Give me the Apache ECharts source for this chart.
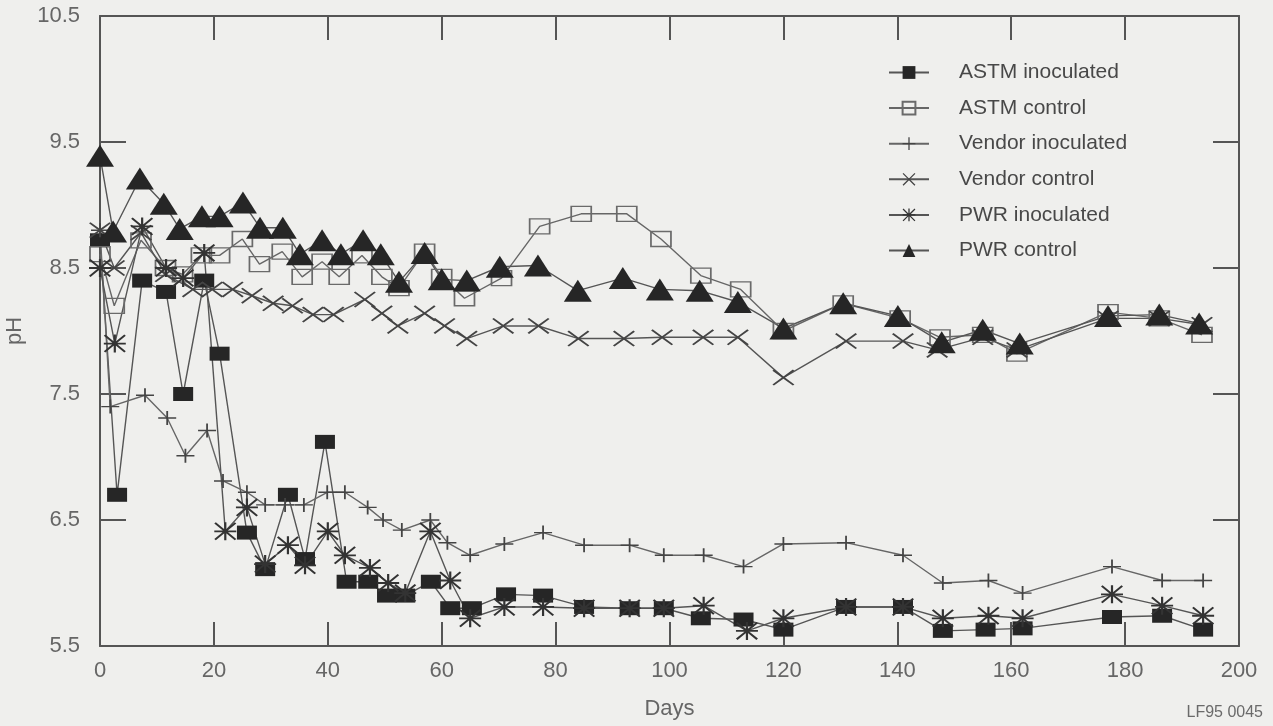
<!DOCTYPE html>
<html>
<head>
<meta charset="utf-8">
<style>
    html, body { margin: 0; padding: 0; background: #efefed; }
    #chart { width: 1273px; height: 726px; }
</style>
</head>
<body>
<div id="chart"></div>

<script src="https://cdn.jsdelivr.net/npm/echarts@6/dist/echarts.min.js"></script>
<script>
    // pH readings, [day, pH]
    var astmInoculated = [[0, 8.72], [3, 6.7], [7.4, 8.4], [11.6, 8.31], [14.6, 7.5], [18.3, 8.4], [21, 7.82],
        [25.8, 6.4], [29, 6.11], [33, 6.7], [36, 6.19], [39.5, 7.12], [43.3, 6.01], [47.1, 6.01], [50.4, 5.9],
        [53.6, 5.9], [58.1, 6.01], [61.5, 5.8], [65.3, 5.8], [71.3, 5.91], [77.8, 5.9], [85, 5.81], [93, 5.8],
        [99, 5.8], [105.5, 5.72], [113, 5.71], [120, 5.63], [131, 5.81], [141, 5.81], [148, 5.62], [155.5, 5.63],
        [162, 5.64], [177.7, 5.73], [186.5, 5.74], [193.7, 5.63]];
    var astmControl = [[0, 8.61], [2.5, 8.2], [7.2, 8.72], [11.5, 8.5], [14.5, 8.45], [17.8, 8.6], [21, 8.6],
        [25, 8.73], [28, 8.53], [32, 8.63], [35.5, 8.43], [39, 8.55], [42, 8.43], [46, 8.6], [49.5, 8.43],
        [52.5, 8.34], [57, 8.63], [60, 8.43], [64, 8.26], [70.5, 8.42], [77.2, 8.83], [84.5, 8.93], [92.5, 8.93],
        [98.5, 8.73], [105.5, 8.44], [112.5, 8.33], [120, 8.0], [130.5, 8.22], [140.5, 8.1], [147.5, 7.95],
        [155, 7.97], [161, 7.82], [177, 8.15], [186, 8.1], [193.5, 7.97]];
    var vendorInoculated = [[0, 8.8], [1.8, 7.4], [7.9, 7.49], [11.8, 7.31], [15, 7.01], [18.8, 7.21], [21.6, 6.81],
        [25.8, 6.72], [29, 6.62], [32.5, 6.62], [35.8, 6.62], [39.9, 6.72], [43, 6.72], [47, 6.6], [49.7, 6.5],
        [53, 6.42], [58, 6.5], [61, 6.32], [65, 6.22], [71, 6.31], [77.8, 6.4], [85, 6.3], [93, 6.3], [99, 6.22],
        [106, 6.22], [113, 6.13], [120, 6.31], [131, 6.32], [141, 6.22], [148, 6.0], [156, 6.02], [162, 5.92],
        [177.7, 6.13], [186.5, 6.02], [193.7, 6.02]];
    var vendorControl = [[0, 8.8], [2.5, 8.5], [7.2, 8.78], [11.5, 8.45], [16.3, 8.33], [19.7, 8.33], [23.3, 8.33],
        [26.7, 8.28], [30.4, 8.22], [33.8, 8.2], [37.4, 8.13], [41, 8.13], [46.5, 8.25], [49.5, 8.14], [52.3, 8.04],
        [57, 8.14], [60.5, 8.04], [64.4, 7.94], [70.8, 8.04], [77, 8.04], [84, 7.94], [92, 7.94], [98.7, 7.95],
        [105.9, 7.95], [112, 7.95], [120, 7.63], [131, 7.92], [141, 7.92], [147, 7.85], [155, 7.95], [161, 7.85],
        [177, 8.1], [186, 8.1], [193.5, 8.05]];
    var pwrInoculated = [[0, 8.5], [2.6, 7.9], [7.4, 8.83], [11.6, 8.5], [14.6, 8.42], [18.3, 8.62], [22, 6.41],
        [25.8, 6.6], [29, 6.15], [33, 6.3], [36, 6.14], [40, 6.41], [43, 6.22], [47.4, 6.12], [50.6, 6.0],
        [53.6, 5.92], [58, 6.41], [61.5, 6.02], [65, 5.72], [71, 5.81], [77.8, 5.81], [85, 5.8], [93, 5.8],
        [99, 5.8], [106, 5.82], [113.6, 5.62], [120, 5.72], [131, 5.81], [141, 5.81], [148, 5.72], [156, 5.74],
        [162, 5.72], [177.7, 5.91], [186.5, 5.82], [193.7, 5.74]];
    var pwrControl = [[0, 9.39], [2.3, 8.79], [7, 9.21], [11.2, 9.01], [14, 8.81], [17.9, 8.91], [21, 8.91],
        [25.1, 9.02], [28.1, 8.82], [32.1, 8.82], [35.1, 8.61], [39, 8.72], [42.3, 8.61], [46.2, 8.72], [49.3, 8.61],
        [52.5, 8.39], [57, 8.62], [60, 8.41], [64.4, 8.4], [70.2, 8.51], [76.9, 8.52], [83.9, 8.32], [91.8, 8.42],
        [98.3, 8.33], [105.3, 8.32], [112, 8.23], [120, 8.02], [130.5, 8.22], [140.1, 8.12], [147.8, 7.91],
        [155, 8.01], [161.5, 7.9], [177, 8.12], [186, 8.13], [193, 8.06]];

    var seriesNames = ['ASTM inoculated', 'ASTM control', 'Vendor inoculated', 'Vendor control', 'PWR inoculated', 'PWR control'];
    var phTicks = [5.5, 6.5, 7.5, 8.5, 9.5, 10.5];
    var phInnerTicks = [6.5, 7.5, 8.5, 9.5];

    // marker shapes made of thin bars (path symbols are filled)
    var plusPath = 'path://M0,9L20,9L20,11L0,11Z M9,0L11,0L11,20L9,20Z';
    var crossPath = 'path://M1.4,0L10,8.6L18.6,0L20,1.4L11.4,10L20,18.6L18.6,20L10,11.4L1.4,20L0,18.6L8.6,10L0,1.4Z';
    var starPath = crossPath + ' M0,9L20,9L20,11L0,11Z M9,0L11,0L11,20L9,20Z';

    var lineGray = '#555';
    var ink = '#262626';
    var labelGray = '#666';

    function makeSeries(name, data, symbol, size, itemStyle, lineColor) {
        return {
            name: name,
            type: 'line',
            data: data,
            symbol: symbol,
            symbolSize: size,
            showAllSymbol: true,
            itemStyle: itemStyle,
            lineStyle: { color: lineColor || lineGray, width: 1.4 },
            emphasis: { disabled: true }
        };
    }

    var chart = echarts.init(document.getElementById('chart'));
    chart.setOption({
        backgroundColor: '#efefed',
        animation: false,
        textStyle: { fontFamily: 'Liberation Sans, Arial, sans-serif' },
        grid: { left: 100, right: 34, top: 16, bottom: 80, outerBoundsMode: 'none', containLabel: false },
        legend: {
            data: seriesNames,
            orient: 'vertical',
            left: 883,
            top: 57,
            itemWidth: 40,
            itemHeight: 16,
            itemGap: 14.6,
            textStyle: { fontSize: 21, color: '#484848', padding: [0, 0, 0, 25] }
        },
        graphic: [{
            type: 'text',
            right: 10,
            top: 705,
            style: { text: 'LF95 0045', fontSize: 16, fill: '#6a6a6a', fontFamily: 'Liberation Sans, Arial, sans-serif' }
        }],
        xAxis: [{
            type: 'value',
            min: 0,
            max: 200,
            interval: 20,
            name: 'Days',
            nameLocation: 'middle',
            nameGap: 52,
            nameTextStyle: { fontSize: 22, color: labelGray },
            axisLine: { onZero: false, lineStyle: { color: lineGray, width: 2 } },
            axisTick: { inside: true, length: 24, lineStyle: { color: lineGray, width: 2 } },
            axisLabel: { fontSize: 22, color: labelGray, margin: 14 },
            splitLine: { show: false }
        }, {
            type: 'value',
            position: 'top',
            min: 0,
            max: 200,
            interval: 20,
            axisLine: { onZero: false, lineStyle: { color: lineGray, width: 2 } },
            axisTick: { inside: true, length: 24, lineStyle: { color: lineGray, width: 2 } },
            axisLabel: { show: false },
            splitLine: { show: false }
        }],
        yAxis: [{
            type: 'value',
            min: 5.5,
            max: 10.5,
            interval: 0.5,
            name: 'pH',
            nameLocation: 'middle',
            nameGap: 74,
            nameRotate: 90,
            nameTextStyle: { fontSize: 22, color: labelGray },
            axisLine: { onZero: false, lineStyle: { color: lineGray, width: 2 } },
            axisTick: { inside: true, length: 26, customValues: phInnerTicks, lineStyle: { color: lineGray, width: 2 } },
            axisLabel: { fontSize: 22, color: labelGray, margin: 20, customValues: phTicks },
            splitLine: { show: false }
        }, {
            type: 'value',
            position: 'right',
            min: 5.5,
            max: 10.5,
            interval: 0.5,
            axisLine: { show: true, onZero: false, lineStyle: { color: lineGray, width: 2 } },
            axisTick: { show: true, inside: true, length: 26, customValues: phInnerTicks, lineStyle: { color: lineGray, width: 2 } },
            axisLabel: { show: false },
            splitLine: { show: false }
        }],
        series: [
            makeSeries(seriesNames[0], astmInoculated, 'rect', [20, 14], { color: ink }),
            makeSeries(seriesNames[1], astmControl, 'rect', [20, 15], { color: 'rgba(0,0,0,0)', borderColor: '#6a6a6a', borderWidth: 1.5 }, '#666'),
            makeSeries(seriesNames[2], vendorInoculated, plusPath, [18, 14], { color: '#444' }, '#666'),
            makeSeries(seriesNames[3], vendorControl, crossPath, [22, 16], { color: '#444' }),
            makeSeries(seriesNames[4], pwrInoculated, starPath, [22, 18], { color: '#333' }),
            makeSeries(seriesNames[5], pwrControl, 'triangle', [28, 22], { color: ink })
        ]
    });
</script>
</body>
</html>
